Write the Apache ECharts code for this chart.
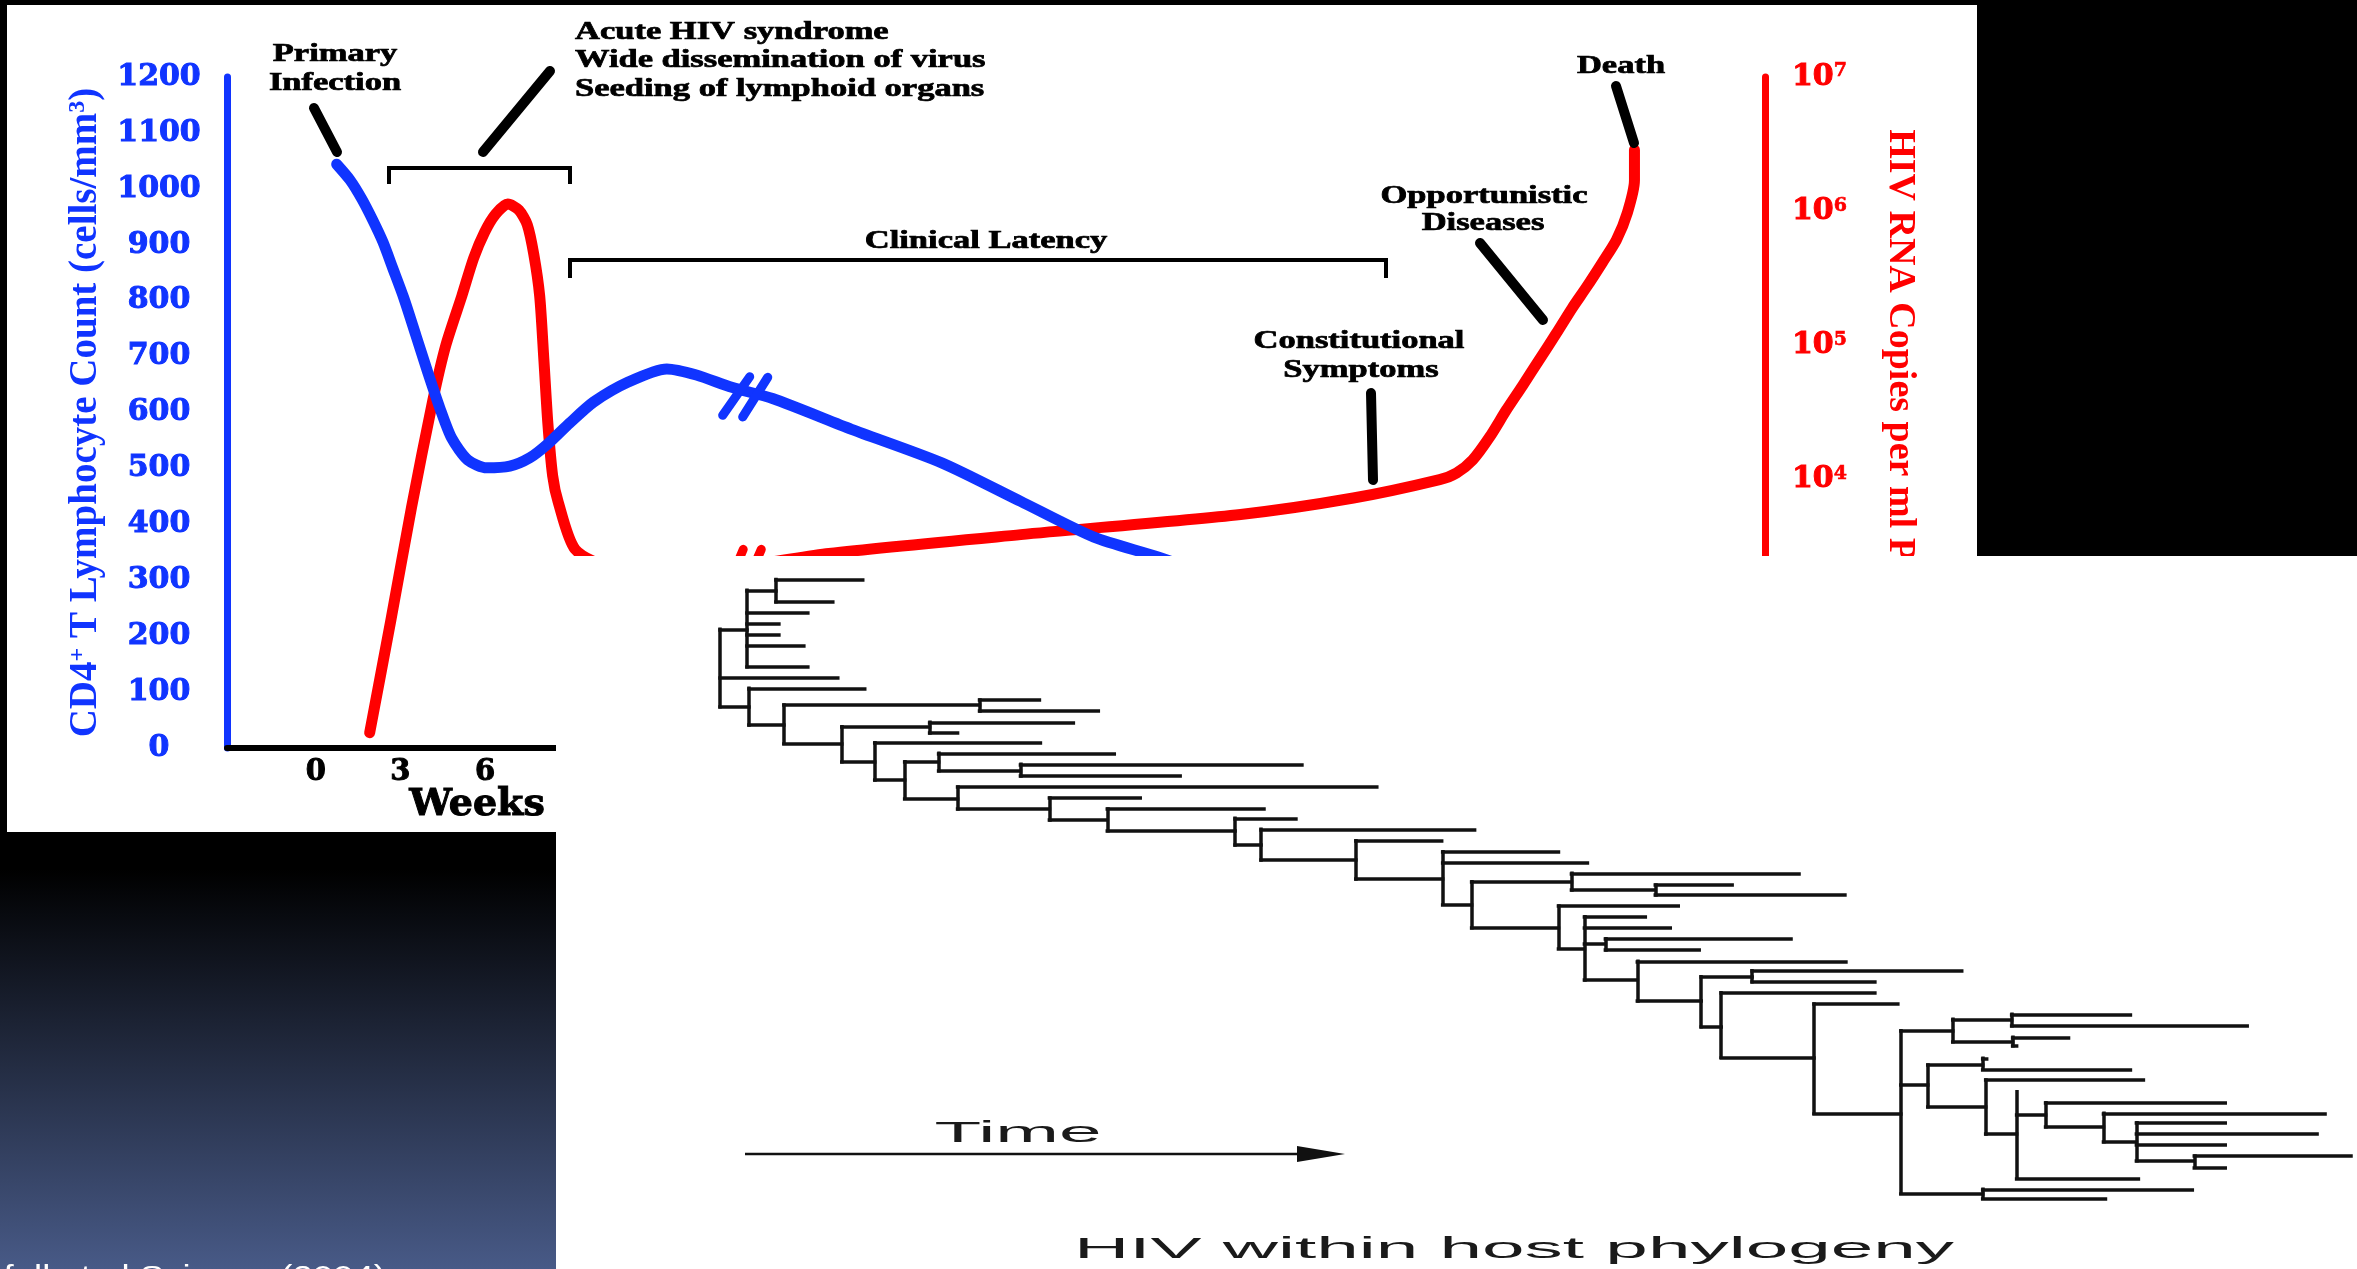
<!DOCTYPE html>
<html>
<head>
<meta charset="utf-8">
<script src="https://cdn.jsdelivr.net/npm/echarts@6/dist/echarts.min.js"></script>
<style>
html,body{margin:0;padding:0;background:#000;}
#main{width:2357px;height:1269px;}
</style>
</head>
<body>
<div id="main"></div>
<script>
// ---------------- DATA ----------------
// x tick labels (weeks)
const weekTicks = [0, 3, 6];
// CD4+ T lymphocyte count (cells/mm3) vs time (week-scaled units)
const cd4Points = [
  [0.74, 1044], [1.21, 1016], [1.63, 982], [2.02, 944], [2.38, 905], [2.73, 858],
  [3.12, 805], [3.55, 738], [3.97, 672], [4.4, 608], [4.82, 554], [5.39, 515],
  [6.06, 501], [6.88, 504], [7.59, 519], [8.23, 544], [9.0, 581], [9.86, 619],
  [11.1, 655], [12.45, 678], [13.5, 667], [14.75, 645], [16.2, 625], [19.0, 570],
  [22.2, 510], [25.0, 441], [27.6, 377], [29.9, 341], [33.0, 285]
];
// HIV RNA copies per ml plasma (log axis)
const rnaAcute = [
  [1.91, 130], [2.66, 891], [3.4, 6310], [4.15, 38900], [4.61, 100000],
  [5.18, 234000], [5.6, 448000], [5.99, 700000], [6.38, 953000], [6.81, 1130000],
  [7.2, 1020000], [7.5, 794000], [7.73, 479000], [7.94, 234000], [8.09, 77600],
  [8.23, 26300], [8.4, 10700], [8.6, 6760], [9.2, 3020], [10.5, 2200], [13.0, 2100]
];
const rnaChronic = [
  [13.0, 2100], [15.5, 2330], [18.2, 2820], [25.0, 3890], [32.8, 5500],
  [36.8, 7290], [39.86, 10000], [40.46, 11200], [41.03, 14000], [41.63, 20700],
  [42.23, 33100], [42.8, 50100], [43.4, 78500], [44.0, 123000], [44.57, 191000],
  [45.07, 272000], [45.64, 417000], [46.13, 610000], [46.52, 977000],
  [46.77, 1700000], [46.77, 2860000]
];
// axis-break strokes on the two curves
const cd4BreakMarks = [
  [[14.43, 595], [15.39, 664]],
  [[15.14, 592], [16.03, 663]]
];
const rnaBreakMarks = [
  [[14.56, 1510], [15.16, 3020]],
  [[15.16, 1480], [15.8, 3020]]
];
// phylogeny: horizontal branches [row, timeStart, timeEnd]
const treeBranches = [
  [4.55,0,2.7],[1.0,2.7,5.6],[0,5.6,14.3],[2.04,5.6,11.3],[3.04,2.7,8.8],
  [4.0,2.7,5.9],[5.06,2.7,5.9],[6.06,2.7,8.4],[7.94,2.7,8.8],[8.94,0,11.8],
  [11.58,0,2.9],[9.91,2.9,14.5],[13.25,2.9,6.4],[11.43,6.4,26.0],[10.97,26.0,32.0],
  [11.97,26.0,37.9],[14.91,6.4,12.2],[13.4,12.2,21.0],[13.0,21.0,35.4],[13.97,21.0,23.8],
  [16.58,12.2,15.5],[14.85,15.5,32.1],[18.25,15.5,18.5],[16.58,18.5,21.9],[15.82,21.9,39.5],
  [17.4,21.9,30.1],[16.82,30.1,58.3],[17.88,30.1,46.1],[19.91,18.5,23.8],[18.88,23.8,65.8],
  [20.88,23.8,33.0],[19.88,33.0,42.1],[21.88,33.0,38.8],[20.88,38.8,54.5],[22.85,38.8,51.6],
  [21.73,51.6,57.7],[24.15,51.6,54.2],[22.73,54.2,75.6],[25.52,54.2,63.7],[23.76,63.7,72.3],
  [27.25,63.7,72.4],[24.76,72.4,84.0],[25.76,72.4,86.9],[29.55,72.4,75.3],[27.49,75.3,85.3],
  [26.73,85.3,108.1],[28.25,85.3,93.7],[27.79,93.7,101.4],[28.7,93.7,112.7],[31.67,75.3,84.0],
  [29.7,84.0,96.0],[33.55,84.0,86.6],[30.67,86.6,92.7],[31.67,86.6,95.2],[33.15,86.6,88.7],
  [32.67,88.7,107.3],[33.7,88.7,98.1],[36.43,86.6,91.9],[34.73,91.9,112.8],[38.34,91.9,98.3],
  [36.13,98.3,103.4],[35.58,103.4,124.4],[36.58,103.4,115.7],[40.67,98.3,100.3],[37.58,100.3,115.7],
  [43.45,100.3,109.6],[38.61,109.6,118.0],[48.55,109.6,118.3],[41.04,118.3,123.5],[40.0,123.5,129.4],
  [39.55,129.4,141.3],[40.58,129.4,153.0],[42.04,123.5,129.5],[41.64,129.5,135.1],[42.4,129.5,129.9],
  [45.97,118.3,121.0],[44.15,121.0,126.5],[43.55,126.5,126.9],[44.55,126.5,141.3],[47.95,121.0,126.8],
  [45.52,126.8,142.6],[50.43,126.8,129.9],[48.7,129.9,132.8],[47.58,132.8,150.8],[49.76,132.8,138.6],
  [48.55,138.6,160.8],[51.13,138.6,141.9],[49.4,141.9,150.8],[50.4,141.9,160.0],[51.4,141.9,150.8],
  [52.85,141.9,147.7],[52.43,147.7,163.4],[53.45,147.7,150.8],[54.45,129.9,142.1],[55.82,118.3,126.5],
  [55.45,126.5,147.5],[56.27,126.5,138.8]
];
// phylogeny: vertical connectors [time, rowTop, rowBottom]
const treeConnectors = [
  [0,4.55,11.58],[2.7,1.0,7.94],[5.6,0,2.04],[2.9,9.91,13.25],[6.4,11.43,14.91],
  [26.0,10.97,11.97],[12.2,13.4,16.58],[21.0,13.0,13.97],[15.5,14.85,18.25],[18.5,16.58,19.91],
  [21.9,15.82,17.4],[30.1,16.82,17.88],[23.8,18.88,20.88],[33.0,19.88,21.88],[38.8,20.88,22.85],
  [51.6,21.73,24.15],[54.2,22.73,25.52],[63.7,23.76,27.25],[72.4,24.76,29.55],[75.3,27.49,31.67],
  [85.3,26.73,28.25],[93.7,27.79,28.7],[84.0,29.7,33.55],[86.6,30.67,36.43],[88.7,32.67,33.7],
  [91.9,34.73,38.34],[98.3,36.13,40.67],[103.4,35.58,36.58],[100.3,37.58,43.45],[109.6,38.61,48.55],
  [118.3,41.04,55.82],[123.5,40.0,42.04],[129.4,39.55,40.58],[129.5,41.64,42.4],[121.0,44.15,47.95],
  [126.5,43.55,44.55],[126.8,45.52,50.43],[129.9,46.58,54.45],[132.8,47.58,49.76],[138.6,48.55,51.13],
  [141.9,49.4,52.85],[147.7,52.43,53.45],[126.5,55.45,56.27]
];

// ---------------- STYLE ----------------
const BLUE = '#1034ff', RED = '#ff0000', INK = '#000';
const SERIF = '"Liberation Serif","Times New Roman",serif';
const SLAB = '"DejaVu Serif",serif';
const SANS = '"Liberation Sans",Arial,sans-serif';

function label(text, x, y, align, font, fill, scaleX, z, heavy) {
  const style = { text: text, font: font, fill: fill, align: align, verticalAlign: 'middle',
                  textAlign: align, textVerticalAlign: 'middle' };
  if (heavy) { style.stroke = fill; style.lineWidth = heavy; }
  return { type: 'text', x: x, y: y, scaleX: scaleX || 1, z: z || 5, silent: true, style: style };
}
function stroke(points, width, color, z, cap) {
  return {
    type: 'polyline', z: z || 5, silent: true, shape: { points: points },
    style: { stroke: color, lineWidth: width, lineCap: cap || 'round', lineJoin: 'miter', fill: null }
  };
}
const ANNO = 'bold 25px ' + SERIF;
const ANNO_SX = 1.38;
const HEAVY = 0.7;

const graphics = [
  { type: 'rect', z: -10, silent: true, shape: { x: 0, y: 0, width: 2357, height: 1269 },
    style: { fill: new echarts.graphic.LinearGradient(0, 0, 0, 1, [
      { offset: 0, color: '#000' }, { offset: 0.685, color: '#000' }, { offset: 1, color: '#485a87' }]) } },
  { type: 'rect', z: -9, silent: true, shape: { x: 7, y: 5, width: 1970, height: 827 }, style: { fill: '#fff' } },

  label('Primary', 335, 55, 'center', ANNO, INK, ANNO_SX, 5, HEAVY),
  label('Infection', 335, 84, 'center', ANNO, INK, ANNO_SX, 5, HEAVY),
  label('Acute HIV syndrome', 575, 33, 'left', ANNO, INK, ANNO_SX, 5, HEAVY),
  label('Wide dissemination of virus', 575, 61, 'left', ANNO, INK, ANNO_SX, 5, HEAVY),
  label('Seeding of lymphoid organs', 575, 90, 'left', ANNO, INK, ANNO_SX, 5, HEAVY),
  label('Clinical Latency', 986, 242, 'center', ANNO, INK, ANNO_SX, 5, HEAVY),
  label('Opportunistic', 1484, 197, 'center', ANNO, INK, ANNO_SX, 5, HEAVY),
  label('Diseases', 1483, 224, 'center', ANNO, INK, ANNO_SX, 5, HEAVY),
  label('Constitutional', 1359, 342, 'center', ANNO, INK, ANNO_SX, 5, HEAVY),
  label('Symptoms', 1361, 371, 'center', ANNO, INK, ANNO_SX, 5, HEAVY),
  label('Death', 1621, 67, 'center', ANNO, INK, ANNO_SX, 5, HEAVY),
  label('Weeks', 477, 805, 'center', 'bold 38px ' + SLAB, INK, 1, 5, 1),

  stroke([[314, 108], [337, 152]], 10, INK),
  stroke([[550, 71], [483, 152]], 10, INK),
  stroke([[1480, 243], [1543, 320]], 10, INK),
  stroke([[1371, 393], [1373, 480]], 10, INK),
  stroke([[1616, 86], [1634, 143]], 10, INK),

  stroke([[389, 184], [389, 168], [570, 168], [570, 184]], 4, INK, 5, 'butt'),
  stroke([[570, 278], [570, 260], [1386, 260], [1386, 278]], 4, INK, 5, 'butt'),

  { type: 'rect', z: 50, silent: true, shape: { x: 556, y: 556, width: 1801, height: 713 }, style: { fill: '#fff' } },

  stroke([[745, 1154], [1300, 1154]], 2.5, '#111', 61, 'butt'),
  { type: 'polygon', z: 61, silent: true, shape: { points: [[1297, 1146], [1345, 1154], [1297, 1162]] }, style: { fill: '#111' } },
  label('Time', 1018, 1134, 'center', '30px ' + SANS, '#1a1a1a', 2.55, 61),
  label('HIV within host phylogeny', 1514, 1250, 'center', '30px ' + SANS, '#1a1a1a', 2.55, 61),
  label('Grenfell et al Science (2004)', 386, 1278, 'right', '30px ' + SANS, '#ffffff', 1.22, 61)
];

const treeLines = treeBranches.map(b => ({ coords: [[b[1], b[0]], [b[2], b[0]]] }))
  .concat(treeConnectors.map(c => ({ coords: [[c[0], c[1]], [c[0], c[2]]] })));

function markSeries(mark, yIdx, color) {
  return { type: 'line', xAxisIndex: 0, yAxisIndex: yIdx, data: mark, symbol: 'none', silent: true,
           lineStyle: { color: color, width: 9, cap: 'round' }, z: yIdx === 0 ? 4 : 3 };
}

const option = {
  animation: false,
  backgroundColor: 'transparent',
  grid: [
    { left: 227, top: 77, width: 1538, height: 671 },
    { left: 720, top: 579.3, width: 1640, height: 627 }
  ],
  xAxis: [
    { type: 'value', gridIndex: 0, min: -3.15, max: 51.4,
      axisLine: { show: true, onZero: false, lineStyle: { color: INK, width: 6 } },
      axisTick: { show: false }, splitLine: { show: false },
      axisLabel: { customValues: weekTicks, margin: 10, color: INK, fontFamily: SLAB, fontWeight: 'bold', fontSize: 29,
                   textBorderColor: INK, textBorderWidth: 1 } },
    { type: 'value', gridIndex: 1, min: 0, max: 164, show: false }
  ],
  yAxis: [
    { type: 'value', gridIndex: 0, min: 0, max: 1200, interval: 100, position: 'left',
      axisLine: { show: true, onZero: false, lineStyle: { color: BLUE, width: 7 } },
      axisTick: { show: false }, splitLine: { show: false },
      axisLabel: { align: 'center', margin: 68, color: BLUE, fontFamily: SLAB, fontWeight: 'bold', fontSize: 30,
                   textBorderColor: BLUE, textBorderWidth: 1, formatter: v => String(v) },
      name: '{n|CD4}{s|+}{n| T Lymphocyte Count (cells/mm}{s|3}{n|)}',
      nameLocation: 'middle', nameRotate: 90, nameGap: 122,
      nameTextStyle: { rich: {
        n: { fontFamily: SERIF, fontWeight: 'bold', fontSize: 39, color: BLUE },
        s: { fontFamily: SERIF, fontWeight: 'bold', fontSize: 24, color: BLUE, verticalAlign: 'top' } } } },
    { type: 'log', logBase: 10, gridIndex: 0, min: 100, max: 10000000, position: 'right',
      axisLine: { show: true, onZero: false, lineStyle: { color: RED, width: 7 } },
      axisTick: { show: false }, splitLine: { show: false }, minorTick: { show: false },
      axisLabel: { margin: 27, align: 'left',
        formatter: v => '{b|10}{s|' + Math.round(Math.log10(v)) + '}',
        rich: {
          b: { fontFamily: SLAB, fontWeight: 'bold', fontSize: 30, color: RED, textBorderColor: RED, textBorderWidth: 1 },
          s: { fontFamily: SLAB, fontWeight: 'bold', fontSize: 19, color: RED, verticalAlign: 'top',
               textBorderColor: RED, textBorderWidth: 0.6 } } },
      name: 'HIV RNA Copies per ml Plasma',
      nameLocation: 'middle', nameRotate: -90, nameGap: 116,
      nameTextStyle: { fontFamily: SERIF, fontWeight: 'bold', fontSize: 38, color: RED, padding: [0, 40, 0, 0] } },
    { type: 'value', gridIndex: 1, min: 0, max: 57, inverse: true, show: false }
  ],
  graphic: { elements: graphics },
  series: [
    { type: 'line', name: 'HIV RNA (acute)', xAxisIndex: 0, yAxisIndex: 1, data: rnaAcute, smooth: 0.25,
      symbol: 'none', silent: true, lineStyle: { color: RED, width: 11, cap: 'round', join: 'round' }, z: 3 },
    { type: 'line', name: 'HIV RNA (chronic)', xAxisIndex: 0, yAxisIndex: 1, data: rnaChronic, smooth: 0.25,
      symbol: 'none', silent: true, lineStyle: { color: RED, width: 11, cap: 'round', join: 'round' }, z: 3 },
    markSeries(rnaBreakMarks[0], 1, RED),
    markSeries(rnaBreakMarks[1], 1, RED),
    { type: 'line', name: 'CD4', xAxisIndex: 0, yAxisIndex: 0, data: cd4Points, smooth: 0.25,
      symbol: 'none', silent: true, lineStyle: { color: BLUE, width: 11, cap: 'round', join: 'round' }, z: 4 },
    markSeries(cd4BreakMarks[0], 0, BLUE),
    markSeries(cd4BreakMarks[1], 0, BLUE),
    { type: 'lines', name: 'phylogeny', coordinateSystem: 'cartesian2d', xAxisIndex: 1, yAxisIndex: 2,
      data: treeLines, silent: true, z: 60,
      lineStyle: { color: '#111', width: 3.5, opacity: 1, cap: 'square', curveness: 0 } }
  ]
};

const chart = echarts.init(document.getElementById('main'), null, { renderer: 'canvas', width: 2357, height: 1269 });
chart.setOption(option);
</script>
</body>
</html>
